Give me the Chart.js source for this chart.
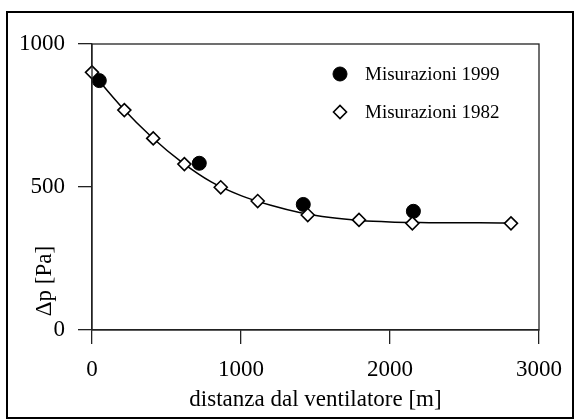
<!DOCTYPE html>
<html>
<head>
<meta charset="utf-8">
<script src="https://cdn.jsdelivr.net/npm/chart.js@4/dist/chart.umd.min.js"></script>
<style>
  html, body { margin: 0; padding: 0; background: #fff; }
  #wrap { width: 575px; height: 419px; position: relative; }
</style>
</head>
<body>
<div id="wrap"><canvas id="c" width="575" height="419"></canvas></div>
<script>
// ---- data ----
const distance1999 = [49, 720, 1418, 2157];
const dp1999 = [872, 583, 439, 415];

const distance1982 = [0, 217, 411, 620, 864, 1112, 1448, 1792, 2150, 2812];
const dp1982 = [901, 769, 670, 580, 499, 451, 402, 385, 373, 373];

const fitDistance = [0, 200, 400, 600, 800, 1000, 1200, 1400, 1600, 1800, 2000, 2200, 2400, 2600, 2812];
const fitDp = [900, 779, 675, 588, 518, 470, 436, 410, 393, 383, 378, 376, 375, 375, 374];

const xTicks = [0, 1000, 2000, 3000];
const yTicks = [0, 500, 1000];

const label1999 = 'Misurazioni 1999';
const label1982 = 'Misurazioni 1982';
const xTitle = 'distanza dal ventilatore [m]';
const yTitle = '\u0394p [Pa]';

const FONT = '"Liberation Serif", "Times New Roman", Times, serif';
const AXIS_COLOR = '#222';

const toXY = (xs, ys) => xs.map((x, i) => ({ x: x, y: ys[i] }));

const framePlugin = {
  id: 'frame',
  beforeDraw(chart) {
    const ctx = chart.ctx;
    ctx.save();
    ctx.fillStyle = '#fff';
    ctx.fillRect(0, 0, chart.width, chart.height);
    ctx.strokeStyle = '#000';
    ctx.lineWidth = 2;
    ctx.strokeRect(7, 12, 566, 406);
    ctx.restore();
  },
  afterDatasetsDraw(chart) {
    const a = chart.chartArea;
    const ctx = chart.ctx;
    ctx.save();
    ctx.strokeStyle = AXIS_COLOR;
    ctx.lineWidth = 1.3;
    ctx.strokeRect(a.left, a.top, a.right - a.left, a.bottom - a.top);
    ctx.restore();
  },
  afterDraw(chart) {
    const ctx = chart.ctx;
    // y-axis title
    ctx.save();
    ctx.fillStyle = '#000';
    ctx.font = '23px ' + FONT;
    ctx.textAlign = 'center';
    ctx.textBaseline = 'alphabetic';
    ctx.translate(51, 281);
    ctx.rotate(-Math.PI / 2);
    ctx.fillText(yTitle, 0, 0);
    ctx.restore();

    // legend inside plot (top-right)
    const items = [
      { ds: chart.data.datasets[0], y: 74 },
      { ds: chart.data.datasets[1], y: 112 }
    ];
    ctx.save();
    items.forEach(it => {
      const ds = it.ds;
      const opts = {
        pointStyle: ds.pointStyle,
        radius: ds.pointRadius,
        borderWidth: ds.pointBorderWidth,
        rotation: 0
      };
      ctx.fillStyle = ds.pointBackgroundColor;
      ctx.strokeStyle = ds.pointBorderColor;
      ctx.lineWidth = ds.pointBorderWidth;
      Chart.helpers.drawPoint(ctx, opts, 340, it.y);
      ctx.fillStyle = '#000';
      ctx.font = '19px ' + FONT;
      ctx.textAlign = 'left';
      ctx.textBaseline = 'middle';
      ctx.fillText(ds.label, 365, it.y + 1);
    });
    ctx.restore();
  }
};

new Chart(document.getElementById('c'), {
  type: 'scatter',
  data: {
    datasets: [
      {
        label: label1999,
        data: toXY(distance1999, dp1999),
        pointStyle: 'circle',
        pointRadius: 7,
        pointBorderWidth: 1,
        pointBackgroundColor: '#000',
        pointBorderColor: '#000',
        showLine: false,
        clip: false,
        order: 2
      },
      {
        label: label1982,
        data: toXY(distance1982, dp1982),
        pointStyle: 'rectRot',
        pointRadius: 6.5,
        pointBorderWidth: 1.6,
        pointBackgroundColor: '#fff',
        pointBorderColor: '#000',
        showLine: false,
        clip: false,
        order: 1
      },
      {
        label: 'fit',
        data: toXY(fitDistance, fitDp),
        showLine: true,
        pointRadius: 0,
        borderColor: '#000',
        borderWidth: 1.5,
        cubicInterpolationMode: 'monotone',
        clip: false,
        order: 3
      }
    ]
  },
  options: {
    responsive: false,
    animation: false,
    devicePixelRatio: 1,
    layout: { padding: { top: 44, right: 36, left: 0, bottom: 0 } },
    plugins: {
      legend: { display: false },
      tooltip: { enabled: false }
    },
    scales: {
      x: {
        type: 'linear',
        min: 0,
        max: 3000,
        afterFit(scale) { scale.height = 89; },
        afterBuildTicks(scale) { scale.ticks = xTicks.map(v => ({ value: v })); },
        ticks: {
          color: '#000',
          font: { family: FONT, size: 23 },
          padding: 12,
          maxRotation: 0,
          callback: v => String(v)
        },
        grid: {
          drawOnChartArea: false,
          drawTicks: true,
          tickLength: 14,
          color: AXIS_COLOR,
          lineWidth: 1.3
        },
        border: { display: true, color: AXIS_COLOR, width: 1.3 },
        title: {
          display: true,
          text: xTitle,
          color: '#000',
          font: { family: FONT, size: 23 },
          padding: { top: 0, bottom: 5 }
        }
      },
      y: {
        type: 'linear',
        min: 0,
        max: 1000,
        afterFit(scale) { scale.width = 92; },
        afterBuildTicks(scale) { scale.ticks = yTicks.map(v => ({ value: v })); },
        ticks: {
          color: '#000',
          font: { family: FONT, size: 23 },
          padding: 13,
          callback: v => String(v)
        },
        grid: {
          drawOnChartArea: false,
          drawTicks: true,
          tickLength: 14,
          color: AXIS_COLOR,
          lineWidth: 1.3
        },
        border: { display: true, color: AXIS_COLOR, width: 1.3 }
      }
    }
  },
  plugins: [framePlugin]
});
</script>
</body>
</html>
